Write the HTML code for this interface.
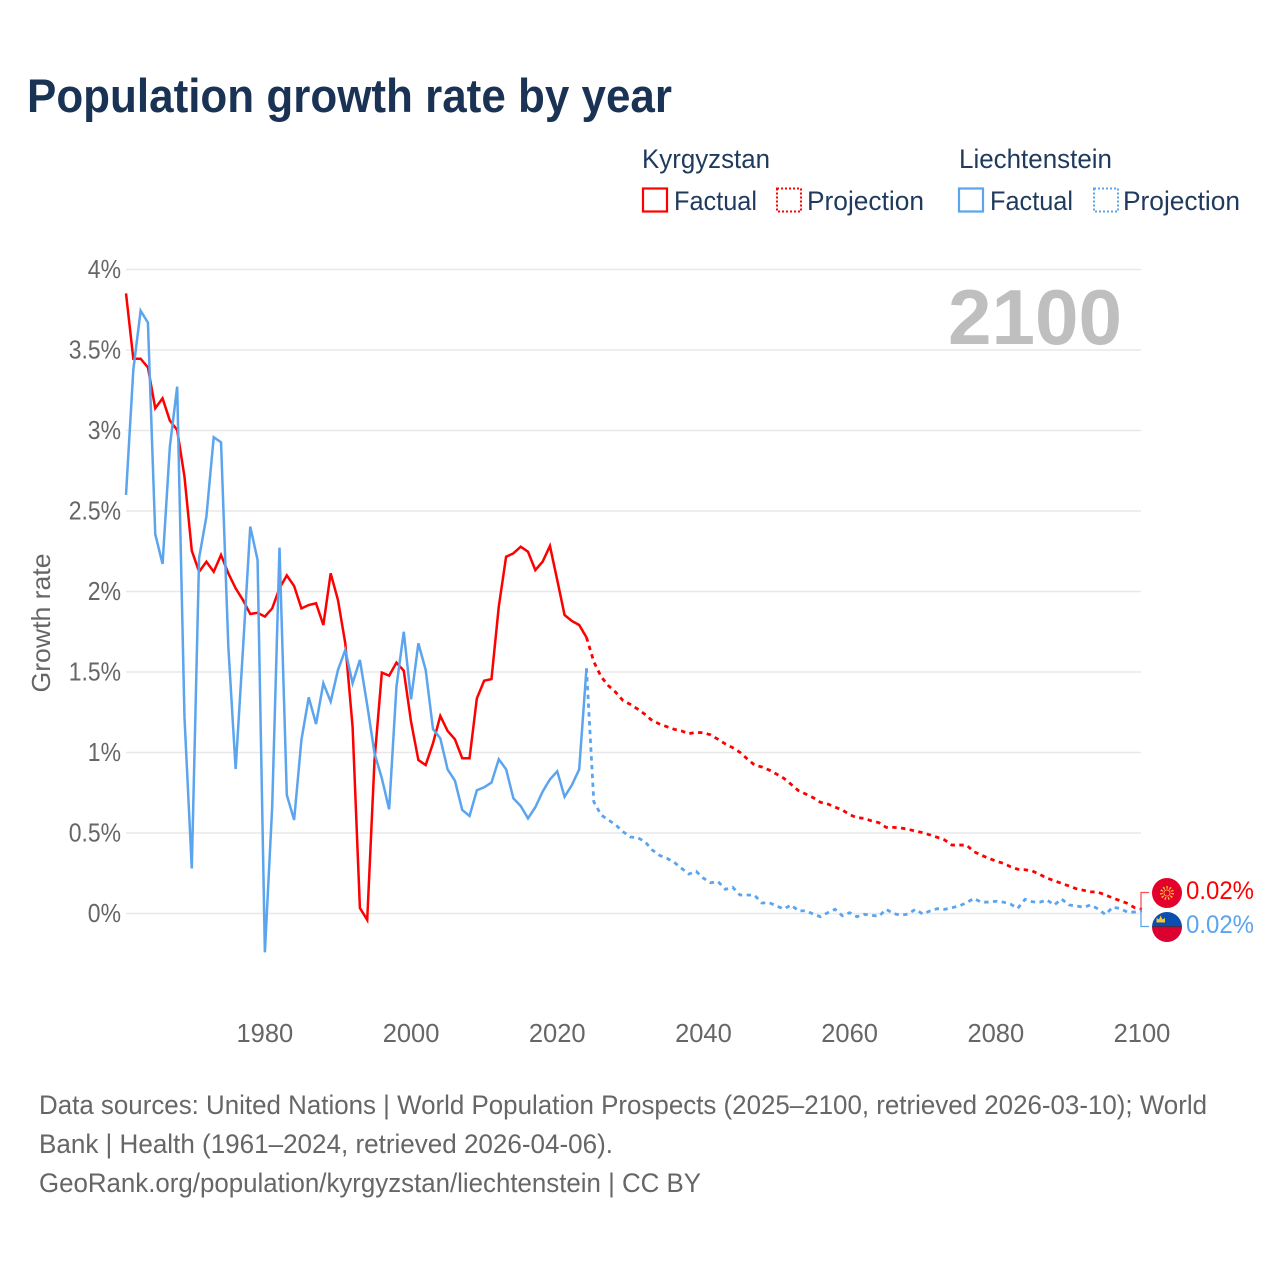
<!DOCTYPE html>
<html lang="en">
<head>
<meta charset="utf-8">
<title>Population growth rate by year</title>
<style>
  html, body { margin: 0; padding: 0; background: #fff; }
  svg { display: block; font-family: "Liberation Sans", sans-serif; }
</style>
</head>
<body>
<svg id="chart" xmlns="http://www.w3.org/2000/svg" width="1280" height="1280" viewBox="0 0 1280 1280">
  <rect x="0" y="0" width="1280" height="1280" fill="#ffffff"/>
  <text x="27" y="112" font-size="47" font-weight="700" fill="#1a3354" textLength="645" lengthAdjust="spacingAndGlyphs">Population growth rate by year</text>

  <g font-size="27" fill="#1f3a5c">
    <text x="642" y="168" textLength="128" lengthAdjust="spacingAndGlyphs">Kyrgyzstan</text>
    <text x="959" y="168" textLength="153" lengthAdjust="spacingAndGlyphs">Liechtenstein</text>
    <rect x="643" y="188.5" width="24" height="23" fill="none" stroke="#ff0000" stroke-width="2.2"/>
    <text x="674" y="210" textLength="83" lengthAdjust="spacingAndGlyphs">Factual</text>
    <rect x="777" y="188.5" width="24" height="23" fill="none" stroke="#ff0000" stroke-width="2" stroke-dasharray="2 2"/>
    <text x="807" y="210" textLength="117" lengthAdjust="spacingAndGlyphs">Projection</text>
    <rect x="959" y="188.5" width="24" height="23" fill="none" stroke="#5ba4ee" stroke-width="2.2"/>
    <text x="990" y="210" textLength="83" lengthAdjust="spacingAndGlyphs">Factual</text>
    <rect x="1094" y="188.5" width="24" height="23" fill="none" stroke="#5ba4ee" stroke-width="2" stroke-dasharray="2 2"/>
    <text x="1123" y="210" textLength="117" lengthAdjust="spacingAndGlyphs">Projection</text>
  </g>

  <g id="grid"></g>
  <g id="y-ticks"></g>
  <g id="x-ticks"></g>

  <text transform="translate(50 623) rotate(-90)" text-anchor="middle" font-size="26" fill="#666666" textLength="139" lengthAdjust="spacingAndGlyphs">Growth rate</text>
  <text x="948" y="344" font-size="78" font-weight="700" fill="#bfbfbf" textLength="174" lengthAdjust="spacingAndGlyphs">2100</text>

  <g id="series"></g>

  <g>
    <path d="M1149 892.5H1141V910" fill="none" stroke="#ff5050" stroke-width="1.3"/>
    <path d="M1141 910V926.5H1149" fill="none" stroke="#5ba4ee" stroke-width="1.3"/>
    <g>
      <circle cx="1167" cy="893" r="15" fill="#e3002b"/>
      <circle cx="1167" cy="893" r="5.6" fill="none" stroke="#f0b93a" stroke-width="2.8" stroke-dasharray="1.4 1.8"/>
      <circle cx="1167" cy="893" r="3.1" fill="#e3002b" stroke="#f0b93a" stroke-width="0.9"/>
    </g>
    <g>
      <clipPath id="li-clip"><circle cx="1167" cy="927" r="15"/></clipPath>
      <g clip-path="url(#li-clip)">
        <rect x="1152" y="912" width="30" height="15" fill="#0a4fb0"/>
        <rect x="1152" y="927" width="30" height="15" fill="#dc0030"/>
        <rect x="1152" y="926" width="30" height="1" fill="#4a2c4a"/>
      </g>
      <path d="M1156 922.5V918L1158.5 919.5L1160 915.5L1162 919.5L1164.5 918V922.5Z" fill="#f2c53d" transform="translate(0.5 0)"/>
    </g>
    <text x="1186" y="899" font-size="25" fill="#ff0000" textLength="68" lengthAdjust="spacingAndGlyphs">0.02%</text>
    <text x="1186" y="933" font-size="25" fill="#5ba4ee" textLength="68" lengthAdjust="spacingAndGlyphs">0.02%</text>
  </g>

  <g font-size="26.5" fill="#666666">
    <text x="39" y="1114" textLength="1168" lengthAdjust="spacingAndGlyphs">Data sources: United Nations | World Population Prospects (2025–2100, retrieved 2026-03-10); World</text>
    <text x="39" y="1153" textLength="574" lengthAdjust="spacingAndGlyphs">Bank | Health (1961–2024, retrieved 2026-04-06).</text>
    <text x="39" y="1192" textLength="662" lengthAdjust="spacingAndGlyphs">GeoRank.org/population/kyrgyzstan/liechtenstein | CC BY</text>
  </g>
</svg>

<script>
const factualYears = [1961,1962,1963,1964,1965,1966,1967,1968,1969,1970,1971,1972,1973,1974,1975,1976,1977,1978,1979,1980,1981,1982,1983,1984,1985,1986,1987,1988,1989,1990,1991,1992,1993,1994,1995,1996,1997,1998,1999,2000,2001,2002,2003,2004,2005,2006,2007,2008,2009,2010,2011,2012,2013,2014,2015,2016,2017,2018,2019,2020,2021,2022,2023,2024];
const projectionYears = [2024,2025,2026,2027,2028,2029,2030,2031,2032,2033,2034,2035,2036,2037,2038,2039,2040,2041,2042,2043,2044,2045,2046,2047,2048,2049,2050,2051,2052,2053,2054,2055,2056,2057,2058,2059,2060,2061,2062,2063,2064,2065,2066,2067,2068,2069,2070,2071,2072,2073,2074,2075,2076,2077,2078,2079,2080,2081,2082,2083,2084,2085,2086,2087,2088,2089,2090,2091,2092,2093,2094,2095,2096,2097,2098,2099,2100];
const kyrgyzstanFactual = [3.852,3.446,3.446,3.392,3.138,3.2,3.061,3.003,2.713,2.254,2.123,2.185,2.123,2.227,2.113,2.02,1.947,1.86,1.868,1.844,1.895,2.02,2.1,2.034,1.895,1.916,1.927,1.792,2.113,1.947,1.678,1.16,0.034,-0.04,0.953,1.496,1.477,1.558,1.508,1.191,0.953,0.922,1.057,1.227,1.134,1.082,0.964,0.964,1.336,1.446,1.456,1.906,2.216,2.237,2.278,2.247,2.133,2.185,2.283,2.071,1.854,1.817,1.792,1.715];
const liechtensteinFactual = [2.6,3.376,3.744,3.67,2.357,2.171,2.9,3.272,1.22,0.28,2.208,2.465,2.958,2.927,1.657,0.897,1.64,2.403,2.196,-0.241,0.663,2.272,0.736,0.581,1.078,1.343,1.177,1.43,1.316,1.513,1.637,1.43,1.575,1.295,0.995,0.84,0.647,1.409,1.75,1.33,1.678,1.513,1.146,1.088,0.895,0.825,0.643,0.606,0.765,0.784,0.813,0.958,0.896,0.715,0.668,0.591,0.66,0.757,0.833,0.883,0.725,0.798,0.895,1.523];
const kyrgyzstanProjection = [1.715,1.564,1.471,1.415,1.374,1.322,1.299,1.27,1.237,1.198,1.177,1.16,1.144,1.134,1.117,1.125,1.123,1.109,1.082,1.053,1.03,1.001,0.96,0.922,0.91,0.891,0.866,0.84,0.802,0.763,0.742,0.72,0.691,0.68,0.661,0.643,0.614,0.595,0.591,0.575,0.564,0.535,0.535,0.531,0.523,0.512,0.502,0.488,0.473,0.457,0.425,0.425,0.425,0.384,0.363,0.343,0.326,0.312,0.291,0.275,0.272,0.264,0.243,0.22,0.204,0.187,0.171,0.154,0.144,0.135,0.132,0.115,0.096,0.08,0.063,0.036,0.026];
const liechtensteinProjection = [1.523,0.694,0.612,0.581,0.55,0.508,0.475,0.471,0.446,0.394,0.361,0.343,0.318,0.281,0.245,0.262,0.219,0.191,0.198,0.15,0.163,0.115,0.115,0.113,0.065,0.067,0.047,0.028,0.053,0.016,0.017,-0.003,-0.02,0.005,0.026,-0.014,0.005,-0.02,-0.005,-0.011,-0.017,0.026,0,-0.011,-0.003,0.026,-0.003,0.016,0.03,0.026,0.036,0.047,0.067,0.094,0.07,0.071,0.076,0.071,0.059,0.032,0.088,0.073,0.07,0.084,0.053,0.09,0.053,0.047,0.039,0.053,0.028,-0.007,0.04,0.03,0.009,0.009,0.017];
const yTickValues = [0,0.5,1,1.5,2,2.5,3,3.5,4];
const yTickLabels = ["0%","0.5%","1%","1.5%","2%","2.5%","3%","3.5%","4%"];
const xTickValues = [1980,2000,2020,2040,2060,2080,2100];
const xTickLabels = ["1980","2000","2020","2040","2060","2080","2100"];

const SVG_NS = "http://www.w3.org/2000/svg";
function xScale(year) { return 126 + (year - 1961) * (1016 / 139); }
function yScale(value) { return 913.5 - value * 161; }
function linePath(years, values) {
  return values.map(function (v, i) {
    return (i ? "L" : "M") + xScale(years[i]).toFixed(2) + " " + yScale(v).toFixed(2);
  }).join("");
}

const gridGroup = document.getElementById("grid");
const yTickGroup = document.getElementById("y-ticks");
const xTickGroup = document.getElementById("x-ticks");
const seriesGroup = document.getElementById("series");

yTickValues.forEach(function (value, i) {
  const line = document.createElementNS(SVG_NS, "line");
  
  
  line.setAttribute("x1", 126);
  line.setAttribute("x2", 1141);
  line.setAttribute("y1", yScale(value));
  line.setAttribute("y2", yScale(value));
  line.setAttribute("stroke", "#e8e8e8");
  line.setAttribute("stroke-width", "1.5");
  gridGroup.appendChild(line);

  const label = document.createElementNS(SVG_NS, "text");
  
  
  label.setAttribute("x", 121);
  label.setAttribute("y", yScale(value) + 8.5);
  label.setAttribute("text-anchor", "end");
  label.setAttribute("font-size", "25.5");
  label.setAttribute("fill", "#666666");
  label.textContent = yTickLabels[i];
  yTickGroup.appendChild(label);
  label.setAttribute("textLength", (label.getComputedTextLength() * 0.9).toFixed(1));
  label.setAttribute("lengthAdjust", "spacingAndGlyphs");
});

xTickValues.forEach(function (year, i) {
  const label = document.createElementNS(SVG_NS, "text");
  
  
  label.setAttribute("x", xScale(year));
  label.setAttribute("y", 1042);
  label.setAttribute("text-anchor", "middle");
  label.setAttribute("font-size", "25.5");
  label.setAttribute("fill", "#666666");
  label.textContent = xTickLabels[i];
  xTickGroup.appendChild(label);
});

function addLine(name, years, values, color, dashed) {
  const path = document.createElementNS(SVG_NS, "path");
  
  
  path.setAttribute("d", linePath(years, values));
  path.setAttribute("fill", "none");
  path.setAttribute("stroke", color);
  path.setAttribute("stroke-width", dashed ? "2.8" : "2.5");
  path.setAttribute("stroke-linejoin", "miter");
  if (dashed) path.setAttribute("stroke-dasharray", "4.4 4.4");
  seriesGroup.appendChild(path);
}

addLine("line-kyrgyzstan-projection", projectionYears, kyrgyzstanProjection, "#ff0000", true);
addLine("line-kyrgyzstan-factual", factualYears, kyrgyzstanFactual, "#ff0000", false);
addLine("line-liechtenstein-projection", projectionYears, liechtensteinProjection, "#5ba4ee", true);
addLine("line-liechtenstein-factual", factualYears, liechtensteinFactual, "#5ba4ee", false);
</script>
</body>
</html>
